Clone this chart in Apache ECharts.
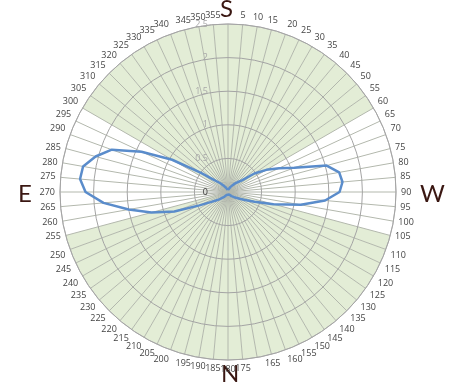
<!DOCTYPE html>
<html>
<head>
<meta charset="utf-8">
<script src="https://cdn.jsdelivr.net/npm/echarts@6/dist/echarts.min.js"></script>
<style>
  html, body { margin: 0; padding: 0; background: #fff; }
  #chart { width: 450px; height: 386px; }
</style>
</head>
<body>
<div id="chart"></div>
<script>
// bearing of each point (degrees, clockwise from top)
const angles = [
  0, 5, 10, 15, 20, 25, 30, 35, 40, 45, 50, 55,
  60, 65, 70, 75, 80, 85, 90, 95, 100, 105, 110, 115,
  120, 125, 130, 135, 140, 145, 150, 155, 160, 165, 170, 175,
  180, 185, 190, 195, 200, 205, 210, 215, 220, 225, 230, 235,
  240, 245, 250, 255, 260, 265, 270, 275, 280, 285, 290, 295,
  300, 305, 310, 315, 320, 325, 330, 335, 340, 345, 350, 355
]
// pattern value at each bearing
const values = [
  0.03, 0.03, 0.04, 0.05, 0.06, 0.08, 0.10, 0.13, 0.17, 0.21, 0.27, 0.48,
  0.66, 0.84, 1.05, 1.52, 1.68, 1.71, 1.66, 1.45, 1.10, 0.70, 0.42, 0.28,
  0.20, 0.15, 0.12, 0.10, 0.08, 0.06, 0.05, 0.04, 0.04, 0.04, 0.04, 0.04,
  0.04, 0.04, 0.04, 0.04, 0.04, 0.05, 0.06, 0.08, 0.10, 0.13, 0.17, 0.22,
  0.30, 0.47, 0.85, 1.18, 1.50, 1.86, 2.12, 2.21, 2.19, 2.04, 1.84, 1.42,
  0.96, 0.50, 0.30, 0.21, 0.16, 0.12, 0.09, 0.07, 0.05, 0.04, 0.03, 0.03
]
const radiusTicks = [0, 0.5, 1, 1.5, 2, 2.5]
// shaded sectors [from, to] clockwise
const shadedRanges = [[300, 60], [105, 255]]
// labels not shown in the original
const hiddenAngleLabels = [0, 170]

const green = '#e3edd6'
const inShade = (a) => shadedRanges.some(([from, to]) =>
  from < to ? a >= from && a <= to : a >= from || a <= to)
const sectorColors = angles.map((a) => (inShade(a + 2.5) ? green : 'rgba(255,255,255,0)'))

const points = angles.map((a, i) => [values[i], a])
points.push([values[0], 360])

const center = [228, 192]
const radius = 168
const rMin = radiusTicks[0]
const rMax = radiusTicks[radiusTicks.length - 1]

const chart = echarts.init(document.getElementById('chart'))

chart.setOption({
  animation: false,
  polar: [
    { center, radius },
    { center, radius },
  ],
  angleAxis: [
    {
      // background shading only
      polarIndex: 0,
      type: 'value',
      min: 0,
      max: 360,
      interval: 5,
      startAngle: 90,
      axisLine: { show: false },
      axisTick: { show: false },
      axisLabel: { show: false },
      splitLine: { show: false },
      splitArea: { show: true, areaStyle: { color: sectorColors } },
      z: 0,
    },
    {
      polarIndex: 1,
      type: 'value',
      min: 0,
      max: 360,
      interval: 5,
      startAngle: 90,
      clockwise: true,
      axisLine: { lineStyle: { color: '#b8b8b8', width: 1 } },
      axisTick: { show: false },
      axisLabel: {
        margin: 5,
        fontSize: 9,
        fontFamily: 'Open Sans',
        color: '#444',
        formatter: (v) => (hiddenAngleLabels.includes(v) || v >= 360 ? '' : String(v)),
      },
      splitLine: { lineStyle: { color: '#b3b8ad', width: 1 } },
      splitArea: { show: false },
      z: 2,
    },
  ],
  radiusAxis: [
    {
      polarIndex: 0,
      type: 'value',
      min: rMin,
      max: rMax,
      show: false,
    },
    {
      polarIndex: 1,
      type: 'value',
      min: rMin,
      max: rMax,
      interval: radiusTicks[1] - radiusTicks[0],
      axisLine: { show: false },
      axisTick: { show: false },
      axisLabel: {
        fontSize: 9,
        fontFamily: 'Open Sans',
        align: 'right',
        verticalAlign: 'middle',
        padding: [0, 12, 0, 0],
        color: (v) => (Number(v) === 0 ? '#333' : '#a8a8a8'),
      },
      splitLine: { lineStyle: { color: '#a4a4a4', width: 1 } },
      z: 3,
    },
  ],
  graphic: [
    { type: 'text', left: 220, top: -3, style: { text: 'S', font: '24px Lato', fill: '#3a1712' } },
    { type: 'text', left: 420, top: 182, style: { text: 'W', font: '24px Lato', fill: '#3a1712' } },
    { type: 'text', left: 221, top: 362, style: { text: 'N', font: '24px Lato', fill: '#3a1712' } },
    { type: 'text', left: 18, top: 182, style: { text: 'E', font: '24px Lato', fill: '#3a1712' } },
  ],
  series: [
    {
      type: 'line',
      coordinateSystem: 'polar',
      polarIndex: 1,
      data: points,
      symbol: 'none',
      lineStyle: { color: '#5a8ccb', width: 2.5 },
      z: 4,
    },
  ],
})
</script>
</body>
</html>
